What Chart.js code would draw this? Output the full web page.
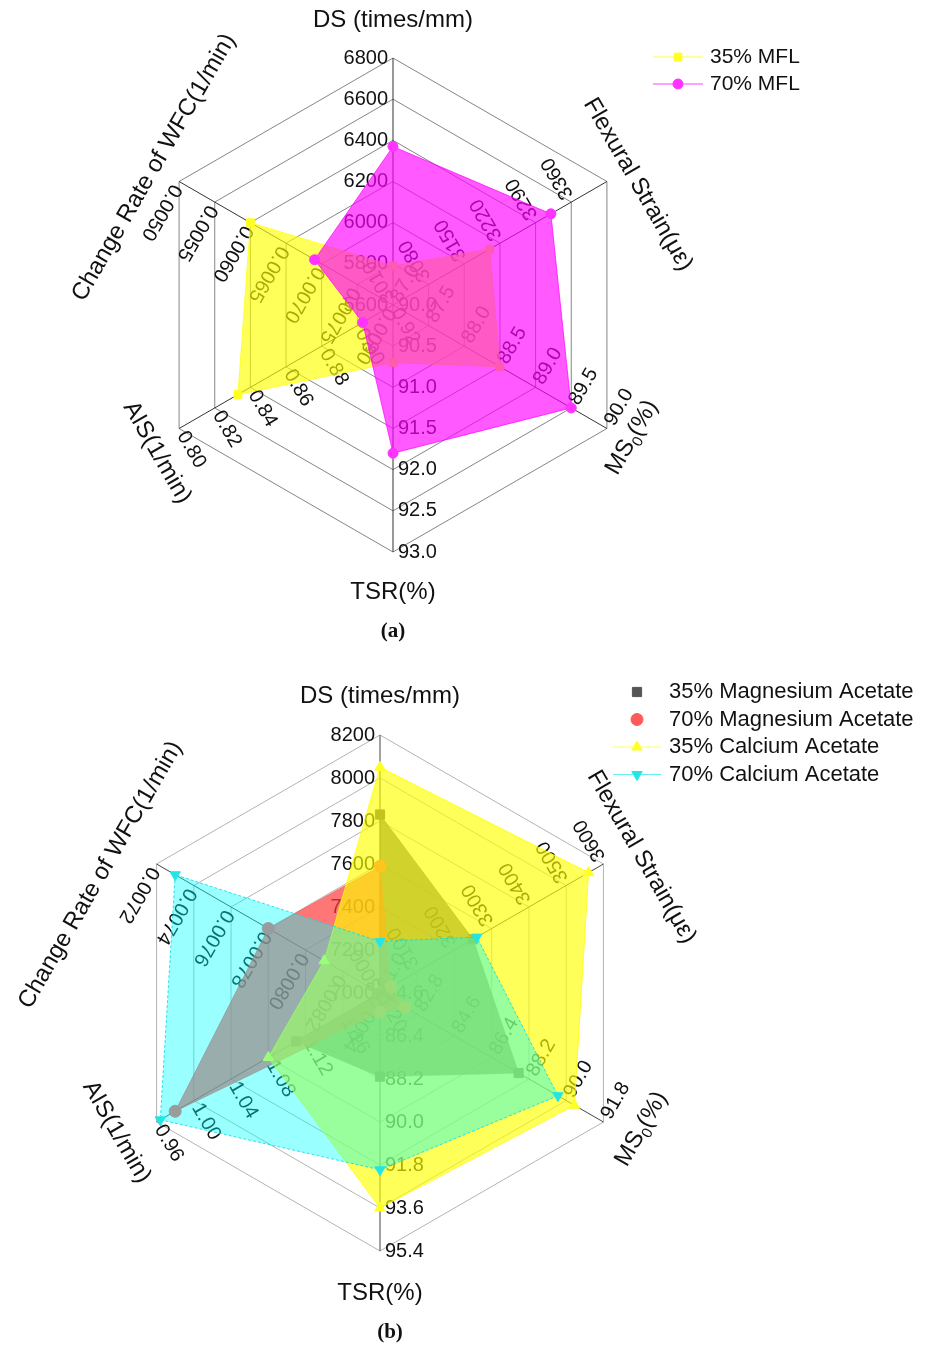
<!DOCTYPE html>
<html>
<head>
<meta charset="utf-8">
<script src="https://cdn.jsdelivr.net/npm/chart.js@4.4.0/dist/chart.umd.min.js"></script>
<style>
  html, body { margin: 0; padding: 0; background: #fff; }
  canvas { display: block; }
</style>
</head>
<body>
<canvas id="chartA" width="931" height="650"></canvas>
<canvas id="chartB" width="931" height="697"></canvas>
<script>
// Spoke names, clockwise from the top ("_0" marks a subscript zero)
const axisNames = ['DS (times/mm)', 'Flexural Strain(με)', 'MS_0(%)', 'TSR(%)', 'AIS(1/min)', 'Change Rate of WFC(1/min)'];

// ---------- panel (a) ----------
// value at the centre and at the rim of each spoke
const rangeA = [[5600, 6800], [3010, 3430], [87.0, 90.0], [90.0, 93.0], [0.92, 0.80], [0.0080, 0.0050]];
// tick labels per spoke, centre -> rim
const ticksA_DS  = ['5600', '5800', '6000', '6200', '6400', '6600', '6800'];
const ticksA_FS  = ['3010', '3080', '3150', '3220', '3290', '3360', ''];
const ticksA_MS  = ['87.0', '87.5', '88.0', '88.5', '89.0', '89.5', '90.0'];
const ticksA_TSR = ['90.0', '90.5', '91.0', '91.5', '92.0', '92.5', '93.0'];
const ticksA_AIS = ['0.92', '0.90', '0.88', '0.86', '0.84', '0.82', '0.80'];
const ticksA_WFC = ['0.0080', '0.0075', '0.0070', '0.0065', '0.0060', '0.0055', '0.0050'];
// series: DS, Flexural strain, MS0, TSR, AIS, WFC change rate
const mfl35 = [5790, 3200, 88.5, 90.7, 0.833, 0.0060];
const mfl70 = [6370, 3320, 89.5, 91.8, 0.903, 0.0069];

// ---------- panel (b) ----------
const rangeB = [[7000, 8200], [3000, 3600], [81.0, 91.8], [84.6, 95.4], [1.20, 0.96], [0.0084, 0.0072]];
const ticksB_DS  = ['7000', '7200', '7400', '7600', '7800', '8000', '8200'];
const ticksB_FS  = ['3000', '3100', '3200', '3300', '3400', '3500', '3600'];
const ticksB_MS  = ['81.0', '82.8', '84.6', '86.4', '88.2', '90.0', '91.8'];
const ticksB_TSR = ['84.6', '86.4', '88.2', '90.0', '91.8', '93.6', '95.4'];
const ticksB_AIS = ['1.20', '1.16', '1.12', '1.08', '1.04', '1.00', '0.96'];
const ticksB_WFC = ['0.0084', '0.0082', '0.0080', '0.0078', '0.0076', '0.0074', '0.0072'];
const mg35 = [7830, 3250, 87.7, 88.1, 1.11, 0.0084];
const mg70 = [7590, 3030, 82.2, 85.4, 0.98, 0.0078];
const ca35 = [8050, 3560, 90.4, 93.6, 1.08, 0.0081];
const ca70 = [7240, 3260, 89.6, 92.0, 0.964, 0.0073];

const LEVELS = 6;
const FONT = "'Liberation Sans', Arial, sans-serif";
// reading direction of the tick labels on each spoke (degrees)
const LABEL_ROT = [0, -120, -60, 0, 60, 120];
const TITLE_ROT = [0, 60, -60, 0, 60, -60];

// every spoke has its own range; map values onto the shared 0..6 radial scale
function toLevels(values, ranges) {
  return values.map((v, i) => (v - ranges[i][0]) / (ranges[i][1] - ranges[i][0]) * LEVELS);
}

function drawTitle(ctx, text, x, y, rot, size) {
  const parts = text.split('_');
  const segs = [{ t: parts[0], sub: false }];
  for (let i = 1; i < parts.length; i++) {
    segs.push({ t: parts[i][0], sub: true });
    segs.push({ t: parts[i].slice(1), sub: false });
  }
  const big = size + 'px ' + FONT;
  const small = Math.round(size * 0.62) + 'px ' + FONT;
  let total = 0;
  segs.forEach(s => { ctx.font = s.sub ? small : big; s.w = ctx.measureText(s.t).width; total += s.w; });
  ctx.save();
  ctx.translate(x, y);
  ctx.rotate(rot * Math.PI / 180);
  ctx.textBaseline = 'middle';
  ctx.textAlign = 'left';
  ctx.fillStyle = '#111';
  let cx = -total / 2;
  segs.forEach(s => {
    ctx.font = s.sub ? small : big;
    ctx.fillText(s.t, cx, s.sub ? size * 0.32 : 0);
    cx += s.w;
  });
  ctx.restore();
}

function panelPlugin(p) {
  return {
    id: 'panelDecor',
    beforeDatasetsDraw(chart) {
      const ctx = chart.ctx, r = chart.scales.r;
      ctx.save();
      ctx.font = p.tickSize + 'px ' + FONT;
      ctx.fillStyle = '#111';
      ctx.textBaseline = 'middle';
      p.ticks.forEach((labels, i) => {
        labels.forEach((txt, k) => {
          if (!txt) return;
          const pt = r.getPointPosition(i, r.getDistanceFromCenterForValue(k));
          ctx.save();
          ctx.translate(pt.x, pt.y);
          ctx.rotate(LABEL_ROT[i] * Math.PI / 180);
          if (i === 0) { ctx.textAlign = 'right'; ctx.fillText(txt, -5, 0); }
          else { ctx.textAlign = 'left'; ctx.fillText(txt, 5, 0); }
          ctx.restore();
        });
      });
      ctx.restore();
    },
    afterDraw(chart) {
      const ctx = chart.ctx, r = chart.scales.r;
      // spoke titles beyond the rim
      axisNames.forEach((name, i) => {
        const v = r.getPointPosition(i, r.drawingArea);
        const off = p.titleOffsets[i];
        drawTitle(ctx, name, v.x + off[0], v.y + off[1], TITLE_ROT[i], p.titleSize);
      });
      // legend
      const lg = p.legend;
      chart.data.datasets.forEach((ds, j) => {
        const y = lg.y + j * lg.step;
        if (ds.legendLine) {
          ctx.save();
          ctx.strokeStyle = ds.legendLine;
          ctx.lineWidth = 1;
          ctx.beginPath();
          ctx.moveTo(lg.x - lg.half, y);
          ctx.lineTo(lg.x + lg.half, y);
          ctx.stroke();
          ctx.restore();
        }
        ctx.save();
        ctx.fillStyle = ds.pointBackgroundColor;
        ctx.strokeStyle = ds.pointBorderColor;
        ctx.lineWidth = 1;
        Chart.helpers.drawPoint(ctx, { pointStyle: ds.pointStyle, rotation: ds.pointRotation || 0, radius: ds.pointRadius, borderWidth: 1 }, lg.x, y);
        ctx.restore();
        ctx.save();
        ctx.font = lg.size + 'px ' + FONT;
        ctx.fillStyle = '#111';
        ctx.textBaseline = 'middle';
        ctx.textAlign = 'left';
        ctx.fillText(ds.label, lg.textX, y);
        ctx.restore();
      });
      // caption
      ctx.save();
      ctx.font = 'bold 21px "Liberation Serif", "Times New Roman", serif';
      ctx.fillStyle = '#111';
      ctx.textAlign = 'center';
      ctx.textBaseline = 'middle';
      ctx.fillText(p.caption, p.captionPos[0], p.captionPos[1]);
      ctx.restore();
    }
  };
}

function makeChart(id, p) {
  return new Chart(document.getElementById(id), {
    type: 'radar',
    data: { labels: axisNames, datasets: p.datasets },
    options: {
      responsive: false,
      animation: false,
      events: [],
      layout: { padding: 0 },
      plugins: { legend: { display: false }, tooltip: { enabled: false } },
      elements: { line: { tension: 0 } },
      scales: {
        r: {
          min: 0,
          max: LEVELS,
          ticks: { display: false, stepSize: 1 },
          pointLabels: { display: false },
          grid: { color: p.gridColor, lineWidth: 1 },
          angleLines: { color: p.spokeColor, lineWidth: 1 },
          afterFit(scale) {
            scale.xCenter = p.center[0];
            scale.yCenter = p.center[1];
            scale.drawingArea = p.radius;
          }
        }
      }
    },
    plugins: [panelPlugin(p)]
  });
}

makeChart('chartA', {
  center: [393, 305], radius: 247,
  gridColor: '#858585', spokeColor: '#333',
  tickSize: 20, titleSize: 24,
  ticks: [ticksA_DS, ticksA_FS, ticksA_MS, ticksA_TSR, ticksA_AIS, ticksA_WFC],
  titleOffsets: [[0, -38], [31, 3], [25, 9], [0, 40], [-22, 24], [-25, -14]],
  legend: { x: 678, half: 25, textX: 710, y: 57, step: 27, size: 21 },
  caption: '(a)', captionPos: [393, 632],
  datasets: [
    {
      label: '35% MFL', data: toLevels(mfl35, rangeA), order: 1,
      fill: true, backgroundColor: 'rgba(255,255,0,0.65)', borderColor: 'rgba(255,255,0,0.7)', borderWidth: 1,
      pointStyle: 'rect', pointRadius: 5.5, pointBackgroundColor: '#ffff22', pointBorderColor: '#ffff22',
      legendLine: '#ffff44'
    },
    {
      label: '70% MFL', data: toLevels(mfl70, rangeA), order: 0,
      fill: true, backgroundColor: 'rgba(255,0,255,0.65)', borderColor: 'rgba(255,0,255,0.7)', borderWidth: 1,
      pointStyle: 'circle', pointRadius: 5, pointBackgroundColor: '#ff33ff', pointBorderColor: '#ff33ff',
      legendLine: '#ff44ff'
    }
  ]
});

makeChart('chartB', {
  center: [380, 343], radius: 258,
  gridColor: '#b4b4b4', spokeColor: '#444',
  tickSize: 20, titleSize: 24,
  ticks: [ticksB_DS, ticksB_FS, ticksB_MS, ticksB_TSR, ticksB_AIS, ticksB_WFC],
  titleOffsets: [[0, -39], [38, -7], [38, 7], [0, 42], [-40, 10], [-56, 11]],
  legend: { x: 637, half: 24, textX: 669, y: 42, step: 27.5, size: 22 },
  caption: '(b)', captionPos: [390, 683],
  datasets: [
    {
      label: '35% Magnesium Acetate', data: toLevels(mg35, rangeB), order: 3,
      fill: true, backgroundColor: 'rgba(85,85,85,0.75)', borderColor: 'rgba(85,85,85,0.5)', borderWidth: 1,
      pointStyle: 'rect', pointRadius: 6.5, pointBackgroundColor: '#555', pointBorderColor: '#555'
    },
    {
      label: '70% Magnesium Acetate', data: toLevels(mg70, rangeB), order: 2,
      fill: true, backgroundColor: 'rgba(255,60,60,0.7)', borderColor: 'rgba(255,60,60,0.6)', borderWidth: 1,
      pointStyle: 'circle', pointRadius: 6, pointBackgroundColor: '#ff5a5a', pointBorderColor: '#ff5a5a'
    },
    {
      label: '35% Calcium Acetate', data: toLevels(ca35, rangeB), order: 1,
      fill: true, backgroundColor: 'rgba(255,255,0,0.65)', borderColor: 'rgba(255,255,0,0.8)', borderWidth: 1,
      pointStyle: 'triangle', pointRadius: 6, pointBackgroundColor: '#ffff22', pointBorderColor: '#ffff22',
      legendLine: '#ffff66'
    },
    {
      label: '70% Calcium Acetate', data: toLevels(ca70, rangeB), order: 0,
      fill: true, backgroundColor: 'rgba(0,255,255,0.4)', borderColor: 'rgba(0,220,230,0.8)', borderWidth: 1, borderDash: [3, 2],
      pointStyle: 'triangle', pointRotation: 180, pointRadius: 6, pointBackgroundColor: '#22e6e6', pointBorderColor: '#22e6e6',
      legendLine: '#66eeee'
    }
  ]
});
</script>
</body>
</html>
